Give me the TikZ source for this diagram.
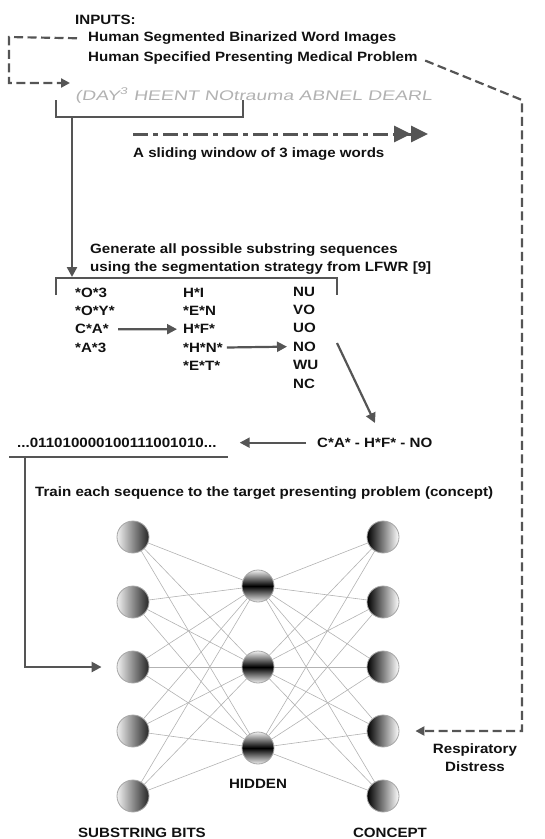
\documentclass[tikz,border=0pt]{standalone}
\usepackage{fontspec}
\setmainfont{Liberation Sans}[FakeStretch=1.12]
\newfontfamily\hand{Liberation Sans}[FakeSlant=0.12]
\usetikzlibrary{arrows.meta,calc}
\definecolor{lc}{HTML}{555555}
\definecolor{tc}{HTML}{111111}
\begin{document}
\begin{tikzpicture}[x=1pt,y=-1pt,
  txt/.style={font=\fontsize{13.5}{16}\selectfont\bfseries, text=tc, inner sep=0pt, anchor=base west},
  handtxt/.style={font=\hand\fontsize{14}{16}\selectfont, text=gray!60, inner sep=0pt, anchor=base west},
  brk/.style={draw=lc, line width=2.6pt},
  arr/.style={draw=lc, line width=2.4pt, -{Triangle[length=10pt,width=10pt]}},
  dsh/.style={draw=lc, line width=2.2pt, dash pattern=on 9pt off 4.5pt},
  dshdot/.style={draw=lc, line width=3pt, dash pattern=on 15pt off 5pt on 5pt off 5pt},
  ball/.style={circle, minimum size=32pt, inner sep=0pt, draw=gray!70, line width=0.8pt},
  inball/.style={ball, left color=gray!12, right color=black!85},
  hidball/.style={ball, top color=gray!12, bottom color=gray!12, middle color=black},
  outball/.style={ball, left color=black, right color=white},
  edge/.style={draw=gray!60, line width=0.6pt}
]
\useasboundingbox (0,0) rectangle (545,839);

% --- inputs
\node[txt] (inp) at (75,24) {INPUTS:};
\node[txt] (l1) at (88,41.7) {Human Segmented Binarized Word Images};
\node[txt] (l2) at (88,61) {Human Specified Presenting Medical Problem};
\node[handtxt] (hw) at (75,100) {\resizebox{357pt}{12pt}{(DAY\textsuperscript{3} HEENT NOtrauma ABNEL DEARL}};

% left dashed connector
\coordinate (lA) at (9,37);
\coordinate (lB) at (9,83);
\coordinate (lT) at (70,83);
\draw[dsh, -{Triangle[length=9pt,width=9pt]}] ([xshift=-11pt]l1.west) -- (lA) -- (lB) -- (lT);

% bracket 1
\draw[brk] (56,100) -- (56,117) -- (243,117) -- (243,100);
\coordinate (b1) at (72,117);
\coordinate (b2) at (72,277);
\draw[arr] (b1) -- (b2);

% sliding window
\coordinate (sw1) at (133,134);
\coordinate (sw2) at (428,134);
\draw[dshdot, -{Triangle[length=17pt,width=16pt]Triangle[length=17pt,width=16pt]}] (sw1) -- (sw2);
\node[txt] (slide) at (133,157) {A sliding window of 3 image words};

% generate
\node[txt] (g1) at (90,253.3) {Generate all possible substring sequences};
\node[txt] (g2) at (90,271) {using the segmentation strategy from LFWR [9]};

% bracket 2
\draw[brk] (56,295) -- (56,278) -- (337,278) -- (337,295);

% columns
\foreach \t [count=\i] in {*O*3,*O*Y*,C*A*,*A*3}
  \node[txt] (c1\i) at (75,{297+18.4*(\i-1)}) {\t};
\foreach \t [count=\i] in {H*I,*E*N,H*F*,*H*N*,*E*T*}
  \node[txt] (c2\i) at (183,{297+18.4*(\i-1)}) {\t};
\foreach \t [count=\i] in {NU,VO,UO,NO,WU,NC}
  \node[txt] (c3\i) at (293,{296+18.4*(\i-1)}) {\t};

\draw[arr, line width=2.2pt, shorten <=9pt, shorten >=6pt] (c13.east) -- (c23.west);
\draw[arr, line width=2.2pt, shorten <=4pt, shorten >=6pt] (c24.east) -- (c34.west);

% sequence
\node[txt] (seq) at (317,447.3) {C*A* - H*F* - NO};
\node[txt] (bits) at (17,447.3) {...011010000100111001010...};
\coordinate (d1) at (337,343);
\coordinate (d2) at (375,423);
\draw[arr, line width=2.2pt] (d1) -- (d2);
\draw[arr, line width=2.2pt, shorten <=11pt, shorten >=23pt] (seq.west) -- (bits.east);

% underline and arrow to network
\draw[brk] (9,457) -- (228,457);
\coordinate (ul) at (25,457);

\node[txt] (train) at (35,496) {Train each sequence to the target presenting problem (concept)};

% network
\foreach \y [count=\i] in {537,602,667,731,796} {
  \node[inball] (i\i) at (133,\y) {};
  \node[outball] (o\i) at (383,\y) {};
}
\foreach \y [count=\j] in {586,667,748}
  \node[hidball] (h\j) at (258,\y) {};
\foreach \i in {1,...,5}
  \foreach \j in {1,2,3} {
    \draw[edge] (i\i) -- (h\j);
    \draw[edge] (h\j) -- (o\i);
  }

\draw[arr, line width=2.4pt] (ul) |- ([xshift=-15pt]i3.west);

\node[txt, anchor=base] (hid) at (258,788) {HIDDEN};
\node[txt, anchor=base] (sb) at (142,837) {SUBSTRING BITS};
\node[txt, anchor=base] (con) at (390,837) {CONCEPT};
\node[txt, anchor=base] (r1) at (475,753) {Respiratory};
\node[txt, anchor=base] (r2) at (475,771) {Distress};

% right dashed connector
\coordinate (rc) at (522,100);
\draw[dsh, -{Triangle[length=9pt,width=9pt]}, shorten <=8pt] (l2.east) -- (rc) |- ([xshift=16pt]o4.east);
\end{tikzpicture}
\end{document}
